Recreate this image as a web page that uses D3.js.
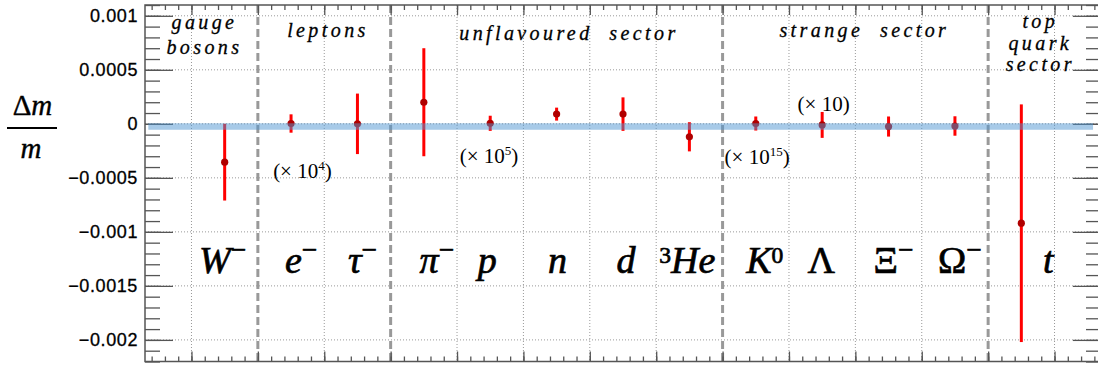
<!DOCTYPE html>
<html>
<head>
<meta charset="utf-8">
<script src="https://cdn.jsdelivr.net/npm/d3@7"></script>
<style>
  body { margin: 0; background: #fff; }
  svg { display: block; }
</style>
</head>
<body>
<div id="chart-area"></div>
<script>
// particles in plotting order (position i sits at x = i + 1.5)
var particles = ["W-", "e-", "tau-", "pi-", "p", "n", "d", "3He", "K0", "Lambda", "Xi-", "Omega-", "t"];
var deltaM  = [-0.000355, 0.000003, 0.0, 0.0002, 0.000005, 0.00009, 0.00009, -0.00012, 0.000003, -0.00001, -0.000025, -0.00002, -0.00092];
var errM    = [0.000355, 0.000085, 0.00028, 0.0005, 0.00007, 0.00006, 0.000155, 0.000135, 0.000065, 0.00012, 0.000093, 0.00009, 0.0011];

// label pieces: [text, style]  i = italic, n = upright, sm = superscript minus, sd = superscript digit
var particleLabels = [
    [["W", "i"], ["\u2212", "sm"]],
    [["e", "i"], ["\u2212", "sm"]],
    [["\u03c4", "i"], ["\u2212", "sm"]],
    [["\u03c0", "i"], ["\u2212", "sm"]],
    [["p", "i"]],
    [["n", "i"]],
    [["d", "i"]],
    [["3", "sd"], ["He", "i"]],
    [["K", "i"], ["0", "sd"]],
    [["\u039b", "n"]],
    [["\u039e", "n"], ["\u2212", "sm"]],
    [["\u03a9", "n"], ["\u2212", "sm"]],
    [["t", "i"]]
];
var labelShift = [-2, 10, 5, 13, -3, 1, 3, -2, 9, -1, 5, 5, 27];

// sectors
var sectorEdges = [2, 4, 9, 13];
var sectorNames = [["gauge", "bosons"], ["leptons"], ["unflavoured\u00a0\u00a0sector"], ["strange\u00a0\u00a0sector"], ["top", "quark", "sector"]];
var sectorCenter = [1.17, 3.03, 6.66, 11.11, 13.76];

// scale factor notes
var factorText = ["4", "5", "15", ""];
var factorX    = [2.23, 5.04, 9.03, 10.13];
var factorY    = [-0.000502, -0.000363, -0.000372, 0.000118];

var yTicks = [-0.002, -0.0015, -0.001, -0.0005, 0, 0.0005, 0.001];
var bandLow = -0.000055, bandHigh = 0.000005;

var W = 1098, H = 366;
var svg = d3.select("#chart-area").append("svg")
    .attr("width", W)
    .attr("height", H);

var x = d3.scaleLinear().domain([0.3, 14.7]).range([145, 1101]);
var y = d3.scaleLinear().domain([-0.0022, 0.0011]).range([361.5, 5]);

var frameColor = "#555";

// grid
var gridX = d3.range(1, 15).filter(function(v) { return sectorEdges.indexOf(v) < 0; });
svg.append("g").selectAll("line")
    .data(gridX).enter().append("line")
    .attr("x1", function(d) { return x(d); })
    .attr("x2", function(d) { return x(d); })
    .attr("y1", y.range()[1]).attr("y2", y.range()[0])
    .style("stroke", "#999").style("stroke-width", 1).style("stroke-dasharray", "1,2");
svg.append("g").selectAll("line")
    .data(yTicks).enter().append("line")
    .attr("x1", x.range()[0]).attr("x2", x.range()[1])
    .attr("y1", function(d) { return y(d); })
    .attr("y2", function(d) { return y(d); })
    .style("stroke", "#999").style("stroke-width", 1).style("stroke-dasharray", "1,2");

// sector separators
svg.append("g").selectAll("line")
    .data(sectorEdges).enter().append("line")
    .attr("x1", function(d) { return x(d); })
    .attr("x2", function(d) { return x(d); })
    .attr("y1", y.range()[1]).attr("y2", y.range()[0])
    .style("stroke", "#999").style("stroke-width", 3).style("stroke-dasharray", "8,4");

// axes (ticks point inwards)
function styleAxis(g) {
    g.select(".domain").remove();
    g.selectAll(".tick line").style("stroke", frameColor).style("stroke-width", 1.3);
}
var yMinor = d3.range(-22, 12).map(function(k) { return k / 10000; });
var xMinor = d3.range(2, 74).map(function(k) { return k / 5; });

svg.append("g").attr("transform", "translate(" + x.range()[0] + ",0)")
    .call(d3.axisLeft(y).tickValues(yMinor).tickSize(-15).tickFormat(""))
    .call(styleAxis);
svg.append("g").attr("transform", "translate(" + x.range()[0] + ",0)")
    .call(d3.axisLeft(y).tickValues(yTicks).tickSize(-28).tickPadding(7)
        .tickFormat(function(d) { return d === 0 ? "0" : (d < 0 ? "\u2212" : "") + String(Math.abs(d)); }))
    .call(styleAxis)
    .selectAll("text")
    .style("font-family", "'Liberation Sans', Arial, sans-serif")
    .style("font-size", "18px")
    .style("letter-spacing", "0.6px")
    .style("fill", "#000")
    .style("stroke", "#000").style("stroke-width", 0.3);
svg.append("g").attr("transform", "translate(" + x.range()[1] + ",0)")
    .call(d3.axisRight(y).tickValues(yMinor).tickSize(-15).tickFormat(""))
    .call(styleAxis);
svg.append("g").attr("transform", "translate(" + x.range()[1] + ",0)")
    .call(d3.axisRight(y).tickValues(yTicks).tickSize(-28).tickFormat(""))
    .call(styleAxis);
[[y.range()[0], d3.axisBottom], [y.range()[1], d3.axisTop]].forEach(function(a) {
    svg.append("g").attr("transform", "translate(0," + a[0] + ")")
        .call(a[1](x).tickValues(xMinor).tickSize(-5).tickFormat(""))
        .call(styleAxis);
    svg.append("g").attr("transform", "translate(0," + a[0] + ")")
        .call(a[1](x).tickValues(d3.range(1, 15)).tickSize(-10).tickFormat(""))
        .call(styleAxis);
});

// frame
svg.append("rect")
    .attr("x", x.range()[0]).attr("y", y.range()[1])
    .attr("width", x.range()[1] - x.range()[0])
    .attr("height", y.range()[0] - y.range()[1])
    .style("fill", "none").style("stroke", frameColor).style("stroke-width", 1.5);

// error bars and markers
var pts = particles.map(function(p, i) {
    return { name: p, pos: i + 1.5, v: deltaM[i], e: errM[i] };
});
svg.append("g").selectAll("line")
    .data(pts).enter().append("line")
    .attr("x1", function(d) { return x(d.pos); })
    .attr("x2", function(d) { return x(d.pos); })
    .attr("y1", function(d) { return y(d.v + d.e); })
    .attr("y2", function(d) { return y(d.v - d.e); })
    .style("stroke", "#f00").style("stroke-width", 3);
svg.append("g").selectAll("circle")
    .data(pts).enter().append("circle")
    .attr("cx", function(d) { return x(d.pos); })
    .attr("cy", function(d) { return y(d.v); })
    .attr("r", 3.6)
    .style("fill", "#b00000");

// reference band at zero
svg.append("rect")
    .attr("x", x(0.35)).attr("width", x(14.58) - x(0.35))
    .attr("y", y(bandHigh)).attr("height", y(bandLow) - y(bandHigh))
    .style("fill", "rgb(80,150,210)").style("opacity", 0.5);

// rich text helper
function addRich(sel, parts, size) {
    var lift = 0;
    parts.forEach(function(p) {
        var kind = p[1], target = 0, fs = size;
        if (kind === "sm") { target = -0.38 * size; fs = 0.72 * size; }
        if (kind === "sd") { target = -0.27 * size; fs = 0.62 * size; }
        sel.append("tspan").text(p[0])
            .attr("dy", target - lift)
            .style("font-size", fs + "px")
            .style("font-style", kind === "i" ? "italic" : "normal");
        lift = target;
    });
}

// particle labels
var serif = "'Liberation Serif', 'Times New Roman', serif";
pts.forEach(function(d, i) {
    var t = svg.append("text")
        .attr("x", x(d.pos) + labelShift[i])
        .attr("y", y(-0.001383))
        .attr("text-anchor", "middle")
        .style("font-family", serif)
        .style("fill", "#000")
        .style("stroke", "#000").style("stroke-width", 0.7);
    addRich(t, particleLabels[i], 38);
});

// sector titles
sectorNames.forEach(function(lines, i) {
    var base = lines.length === 1 ? (i === 2 ? 40 : 37) : (lines.length === 2 ? 29 : 28);
    var step = lines.length === 2 ? 24.5 : 21.5;
    lines.forEach(function(s, j) {
        svg.append("text")
            .attr("x", x(sectorCenter[i]) + 1.7)
            .attr("y", base + j * step)
            .attr("text-anchor", "middle")
            .style("font-family", serif)
            .style("font-style", "italic")
            .style("font-size", "20px")
            .style("letter-spacing", "3.4px")
            .style("fill", "#000")
            .style("stroke", "#000").style("stroke-width", 0.3)
            .text(s);
    });
});

// scale factor notes
factorText.forEach(function(f, i) {
    var t = svg.append("text")
        .attr("x", x(factorX[i]))
        .attr("y", y(factorY[i]))
        .style("font-family", serif)
        .style("font-size", "21px")
        .style("fill", "#000");
    t.append("tspan").text("(\u00d7 10");
    if (f) {
        t.append("tspan").text(f).attr("dy", -8).style("font-size", "13px");
        t.append("tspan").text(")").attr("dy", 8);
    } else {
        t.append("tspan").text(")");
    }
});

// y axis title
var yt = svg.append("g").style("font-family", serif).style("fill", "#000");
var num = yt.append("text").attr("x", 32.5).attr("y", 115).attr("text-anchor", "middle")
    .style("font-size", "29px").style("stroke", "#000").style("stroke-width", 0.4);
num.append("tspan").text("\u0394");
num.append("tspan").text("m").style("font-style", "italic");
yt.append("line").attr("x1", 7).attr("x2", 57).attr("y1", 128).attr("y2", 128)
    .style("stroke", "#000").style("stroke-width", 2);
yt.append("text").attr("x", 31).attr("y", 158).attr("text-anchor", "middle")
    .style("font-size", "29px").style("font-style", "italic")
    .style("stroke", "#000").style("stroke-width", 0.4).text("m");
</script>
</body>
</html>
